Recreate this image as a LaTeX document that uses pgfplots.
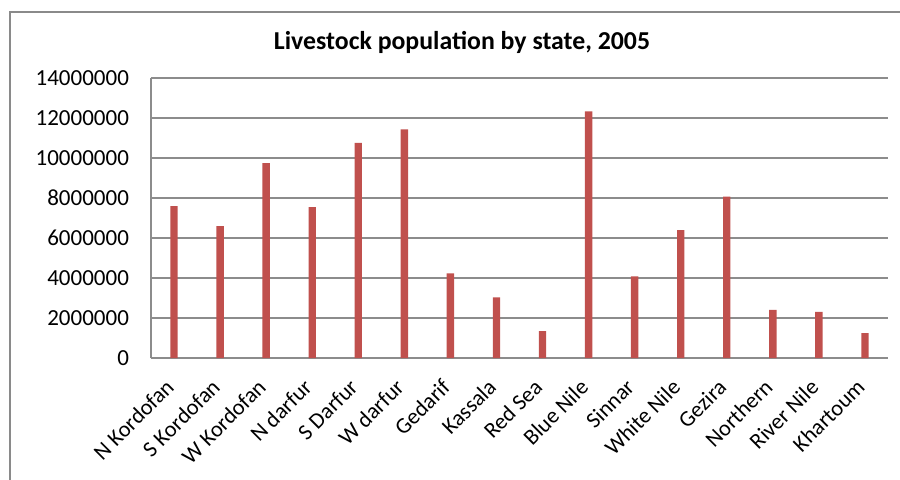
\documentclass[border=0pt]{standalone}
\usepackage{pgfplots}
\pgfplotsset{compat=1.18}
\usepackage{fontspec}
\setmainfont{Carlito}
\definecolor{barred}{HTML}{C0504D}
\definecolor{gridgray}{HTML}{8C8C8C}
\definecolor{framegray}{HTML}{8A8A8A}
\begin{document}
\begin{tikzpicture}[x=0.5pt,y=0.5pt]
\useasboundingbox (0,0) rectangle (900,479);
\draw[color=framegray, line width=1pt] (9.5,-5) -- (9.5,467) -- (905,467);
\node[font=\bfseries\fontsize{12.9}{15}\selectfont] at (462,437) {Livestock population by state, 2005};
\begin{axis}[
  at={(75.5pt,60.5pt)}, anchor=south west,
  scale only axis, width=368.5pt, height=140pt,
  xmin=-0.5, xmax=15.5, ymin=0, ymax=14000000,
  axis lines*=left,
  axis line style={gridgray, line width=0.7pt},
  ymajorgrids, grid style={gridgray, line width=0.7pt},
  major tick length=0pt,
  scaled y ticks=false,
  ytick={0,2000000,4000000,6000000,8000000,10000000,12000000,14000000},
  yticklabels={0,2000000,4000000,6000000,8000000,10000000,12000000,14000000},
  yticklabel style={font=\fontsize{11.5}{13}\selectfont, xshift=-7.5pt},
  xtick={0,1,...,15},
  xticklabels={N Kordofan,S Kordofan,W Kordofan,N darfur,S Darfur,W darfur,Gedarif,Kassala,Red Sea,Blue Nile,Sinnar,White Nile,Gezira,Northern,River Nile,Khartoum},
  xticklabel style={font=\fontsize{11.2}{13}\selectfont, rotate=45, anchor=north east, yshift=0pt, xshift=-7pt},
  ybar, bar width=3.7pt,
  /pgf/number format/assume math mode=true,
]
\addplot[fill=barred, draw=none] coordinates {
(0,7600000) (1,6590000) (2,9740000) (3,7550000) (4,10760000) (5,11430000)
(6,4230000) (7,3030000) (8,1340000) (9,12330000) (10,4080000) (11,6390000)
(12,8070000) (13,2410000) (14,2310000) (15,1250000)};
\end{axis}
\end{tikzpicture}
\end{document}
